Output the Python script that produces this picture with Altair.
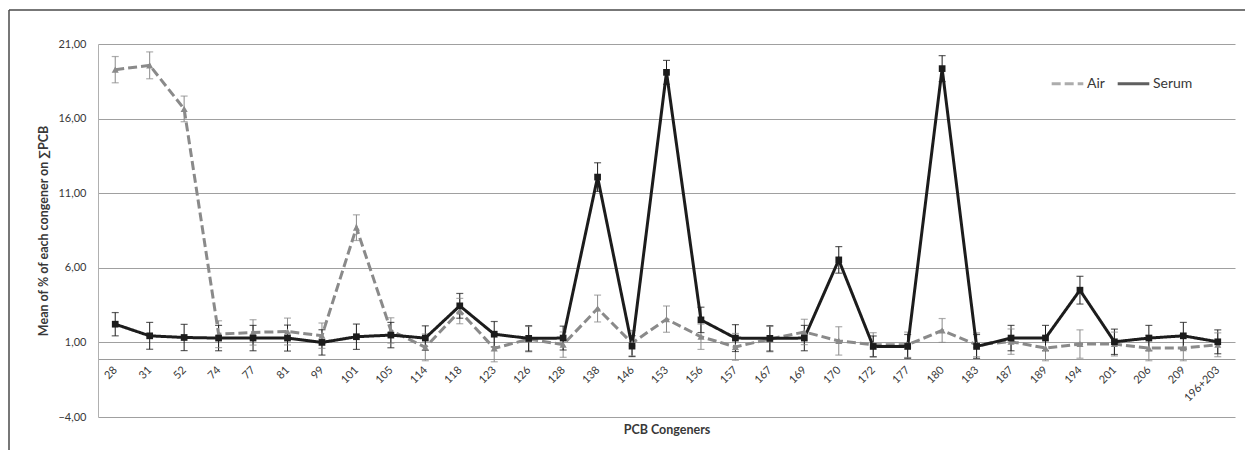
import altair as alt
import pandas as pd

congeners = ["28", "31", "52", "74", "77", "81", "99", "101", "105", "114", "118",
             "123", "126", "128", "138", "146", "153", "156", "157", "167", "169",
             "170", "172", "177", "180", "183", "187", "189", "194", "201", "206",
             "209", "196+203"]

air = [19.28, 19.57, 16.65, 1.55, 1.67, 1.73, 1.45, 8.69, 1.80, 0.67, 3.10,
       0.60, 1.22, 0.85, 3.27, 0.95, 2.56, 1.38, 0.70, 1.22, 1.70,
       1.10, 0.85, 0.84, 1.80, 0.84, 1.05, 0.62, 0.89, 0.89, 0.62,
       0.62, 0.84]
air_err = [0.88, 0.90, 0.86, 0.90, 0.85, 0.90, 0.85, 0.86, 0.85, 0.90, 0.85,
           0.90, 0.85, 0.85, 0.90, 0.85, 0.88, 0.85, 0.90, 0.85, 0.85,
           0.95, 0.80, 0.85, 0.80, 0.80, 0.85, 0.85, 0.95, 0.80, 0.85,
           0.85, 0.80]

serum = [2.22, 1.44, 1.33, 1.29, 1.29, 1.29, 1.00, 1.38, 1.49, 1.29, 3.45,
         1.55, 1.27, 1.29, 12.08, 0.75, 19.10, 2.51, 1.29, 1.27, 1.29,
         6.53, 0.73, 0.73, 19.35, 0.73, 1.29, 1.29, 4.50, 1.04, 1.29,
         1.44, 1.04]
serum_err = [0.78, 0.90, 0.88, 0.85, 0.85, 0.87, 0.85, 0.85, 0.85, 0.82, 0.83,
             0.85, 0.85, 0.80, 0.96, 0.70, 0.80, 0.85, 0.90, 0.85, 0.85,
             0.89, 0.70, 0.80, 0.87, 0.80, 0.85, 0.85, 0.93, 0.85, 0.85,
             0.90, 0.80]

series_names = ["Air", "Serum"]
y_ticks = [-4, 1, 6, 11, 16, 21]

rows = []
for name, vals, errs in [("Air", air, air_err), ("Serum", serum, serum_err)]:
    for i, (c, v, e) in enumerate(zip(congeners, vals, errs)):
        rows.append({"congener": c, "series": name, "value": v,
                     "lo": v - e, "hi": v + e, "idx": i})
df = pd.DataFrame(rows)

FONT = "Lato"
GRAY = "#8a8a8a"
BLACK = "#1c1c1c"
TXT = "#383838"

x_enc = alt.X("congener:N", sort=congeners,
              scale=alt.Scale(type="point", padding=0.5),
              axis=alt.Axis(title="PCB Congeners", offset=-58, labelAngle=-45,
                            labelAlign="right", labelBaseline="middle",
                            labelPadding=9, ticks=False, domainColor="#9a9a9a",
                            domainWidth=1.2, labelFontSize=11, labelColor=TXT,
                            titleFontSize=12.5, titleFontWeight="bold",
                            titleColor=TXT, titleY=70, titleBaseline="middle",
                            grid=False))
y_scale = alt.Scale(domain=[-4, 21], nice=False, zero=False)
y_axis = alt.Axis(title="Mean of % of each congener on \u2211PCB", values=y_ticks,
                  labelExpr="replace(format(datum.value, '.2f'), '.', ',')",
                  ticks=False, labelPadding=12, labelFontSize=11,
                  labelColor=TXT, titleFontSize=12.5, titleFontWeight="bold",
                  titleColor=TXT, titlePadding=7, grid=True,
                  gridColor="#a0a0a0", gridWidth=1.2, domainColor="#b0b0b0")

color = alt.Color("series:N", scale=alt.Scale(domain=series_names, range=[GRAY, BLACK]),
                  legend=alt.Legend(title=None, orient="none", legendX=952, legendY=22,
                                    direction="horizontal", symbolType="stroke",
                                    symbolStrokeWidth=3, symbolSize=1000,
                                    labelFontSize=14, labelColor=TXT,
                                    labelFont=FONT, columnPadding=6, labelOffset=2))
dash = alt.StrokeDash("series:N", scale=alt.Scale(domain=series_names, range=[[9, 4], [1, 0]]))

base = alt.Chart(df)

err_rule = base.mark_rule(strokeWidth=1).encode(
    x=x_enc, y=alt.Y("lo:Q", scale=y_scale, axis=y_axis), y2="hi:Q", color=color)
cap_lo = base.mark_tick(size=7, thickness=1.2).encode(
    x=x_enc, y=alt.Y("lo:Q", scale=y_scale), color=color)
cap_hi = base.mark_tick(size=7, thickness=1.2).encode(
    x=x_enc, y=alt.Y("hi:Q", scale=y_scale), color=color)
lines = base.mark_line(strokeWidth=3).encode(
    x=x_enc, y=alt.Y("value:Q", scale=y_scale), color=color, strokeDash=dash,
    order="idx:Q")
pts_air = base.transform_filter(alt.datum.series == "Air").mark_point(
    filled=True, size=50, opacity=1, shape="triangle-up").encode(
    x=x_enc, y=alt.Y("value:Q", scale=y_scale), color=color)
pts_serum = base.transform_filter(alt.datum.series == "Serum").mark_point(
    filled=True, size=45, opacity=1, shape="square").encode(
    x=x_enc, y=alt.Y("value:Q", scale=y_scale), color=color)

# decorative outer frame (top and left edges, as in the source figure)
frame_src = alt.Chart(pd.DataFrame({"f": [0]}))
frame_top = frame_src.mark_rule(color="#4a4a4a", strokeWidth=1.5).encode(
    x=alt.value(-89), x2=alt.value(1170), y=alt.value(-34))
frame_left = frame_src.mark_rule(color="#4a4a4a", strokeWidth=1.5).encode(
    x=alt.value(-89), y=alt.value(-34), y2=alt.value(420))

chart = alt.layer(frame_top, frame_left, err_rule, cap_lo, cap_hi, lines,
                  pts_air, pts_serum).properties(
    width=1137, height=373,
    autosize=alt.AutoSizeParams(type="none"),
    padding={"left": 90, "top": 36, "right": 10, "bottom": 45},
).configure(font=FONT).configure_view(stroke=None).configure_axis(labelFont=FONT, titleFont=FONT)

chart.save("out.html", embed_options={"renderer": "svg", "actions": False})
